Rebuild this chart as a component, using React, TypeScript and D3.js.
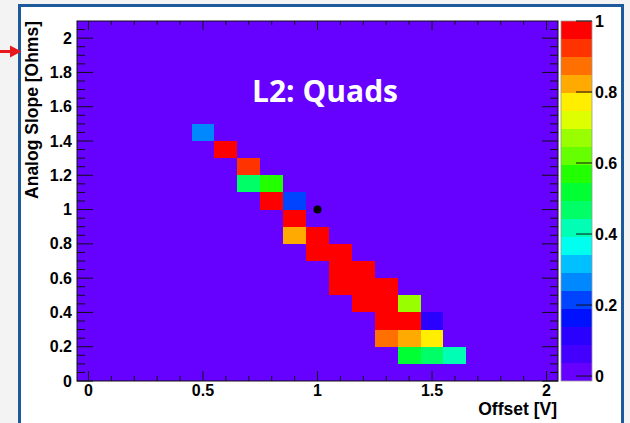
import React from "react";
import * as d3 from "d3";

// Occupied bins of the 2D histogram: bin centre on x (Offset), lower edge on y (Slope), content z
const cellX = [0.5, 0.6, 0.7, 0.7, 0.8, 0.8, 0.9, 0.9, 0.9, 1.0, 1.0, 1.1, 1.1, 1.2, 1.1, 1.2, 1.3, 1.2, 1.3, 1.4, 1.3, 1.4, 1.5, 1.3, 1.4, 1.5, 1.4, 1.5, 1.6];
const cellY = [1.4, 1.3, 1.2, 1.1, 1.1, 1.0, 1.0, 0.9, 0.8, 0.8, 0.7, 0.7, 0.6, 0.6, 0.5, 0.5, 0.5, 0.4, 0.4, 0.4, 0.3, 0.3, 0.3, 0.2, 0.2, 0.2, 0.1, 0.1, 0.1];
const cellZ = [0.26, 1.0, 0.93, 0.47, 0.57, 1.0, 0.21, 1.0, 0.83, 1.0, 1.0, 1.0, 1.0, 1.0, 1.0, 1.0, 1.0, 1.0, 1.0, 0.67, 1.0, 1.0, 0.11, 0.88, 0.83, 0.78, 0.52, 0.47, 0.42];

// Reference point marker
const markerX = [1.0];
const markerY = [1.0];

// Axis tick labels
const xMajor = [0, 0.5, 1, 1.5, 2];
const xTickLabels = ["0", "0.5", "1", "1.5", "2"];
const yMajor = [0, 0.2, 0.4, 0.6, 0.8, 1, 1.2, 1.4, 1.6, 1.8, 2];
const yTickLabels = ["0", "0.2", "0.4", "0.6", "0.8", "1", "1.2", "1.4", "1.6", "1.8", "2"];
const zMajor = [0, 0.2, 0.4, 0.6, 0.8, 1];
const zTickLabels = ["0", "0.2", "0.4", "0.6", "0.8", "1"];

// Spectrum palette, violet to red (20 contour levels)
const palette = [
  "#6600ff", "#4400ff", "#2a00ff", "#0011ff", "#0044ff",
  "#0088ff", "#00c0ff", "#00ffee", "#00ffb4", "#00ff66",
  "#00ff33", "#22ff00", "#66ff00", "#99ff00", "#ddff00",
  "#ffee00", "#ffaa00", "#ff7000", "#ff3300", "#ff0000",
];

const W = 630;
const H = 423;
const FONT = "'Liberation Sans', Arial, Helvetica, sans-serif";

export default function App() {
  const x = d3.scaleLinear().domain([-0.05, 2.05]).range([77, 558]);
  const y = d3.scaleLinear().domain([0, 2.1]).range([381, 21]);
  const zMin = -0.014;
  const zAxis = d3.scaleLinear().domain([zMin, 1]).range([381, 21]);
  const color = d3.scaleQuantize<string>().domain([zMin, 1]).range(palette);

  const [x0, x1] = x.range();
  const [y0, y1] = y.range();

  const xMinor = d3.range(0, 21).map((i) => i / 10).filter((v) => !xMajor.some((m) => Math.abs(m - v) < 1e-9));
  const yMinor = d3.range(0, 42).map((i) => i * 0.05).filter((v) => v <= 2.06 && !yMajor.some((m) => Math.abs(m - v) < 1e-9));

  const barX0 = 561;
  const barX1 = 592;
  const bandEdges = d3.range(0, palette.length + 1).map((i) => zMin + (i * (1 - zMin)) / palette.length);

  return (
    <svg
      width={W}
      height={H}
      style={{ position: "absolute", left: 0, top: 0, background: "#f3f3f3" }}
      fontFamily={FONT}
    >
      {/* panel */}
      <rect x={19.5} y={5.5} width={603} height={420} fill="#ffffff" stroke="#1c5a9c" strokeWidth={3} />

      {/* red pointer */}
      <g fill="#e8191c" stroke="none">
        <rect x={0} y={50} width={11} height={3} />
        <path d="M10,45.5 L21.5,51.5 L10,57.5 Z" />
      </g>

      {/* plot area background */}
      <rect x={x0} y={y1} width={x1 - x0} height={y0 - y1} fill={palette[0]} />

      {/* histogram bins */}
      <g shapeRendering="crispEdges">
        {cellX.map((cx, i) => (
          <rect
            key={i}
            x={x(cx - 0.05)}
            y={y(cellY[i] + 0.1)}
            width={x(cx + 0.05) - x(cx - 0.05)}
            height={y(cellY[i]) - y(cellY[i] + 0.1)}
            fill={color(cellZ[i])}
          />
        ))}
      </g>

      {/* marker */}
      {markerX.map((mx, i) => (
        <circle key={i} cx={x(mx)} cy={y(markerY[i])} r={4} fill="#000" />
      ))}

      {/* frame */}
      <rect x={x0} y={y1} width={x1 - x0} height={y0 - y1} fill="none" stroke="#111" strokeWidth={1} />

      {/* ticks on all four sides */}
      <g stroke="#111" strokeWidth={1}>
        {xMajor.map((v) => (
          <g key={"xM" + v}>
            <line x1={x(v)} x2={x(v)} y1={y0} y2={y0 - 10} />
            <line x1={x(v)} x2={x(v)} y1={y1} y2={y1 + 9} />
          </g>
        ))}
        {xMinor.map((v) => (
          <g key={"xm" + v}>
            <line x1={x(v)} x2={x(v)} y1={y0} y2={y0 - 5} />
            <line x1={x(v)} x2={x(v)} y1={y1} y2={y1 + 4} />
          </g>
        ))}
        {yMajor.map((v) => (
          <g key={"yM" + v}>
            <line x1={x0} x2={x0 + 16} y1={y(v)} y2={y(v)} />
            <line x1={x1} x2={x1 - 16} y1={y(v)} y2={y(v)} />
          </g>
        ))}
        {yMinor.map((v) => (
          <g key={"ym" + v}>
            <line x1={x0} x2={x0 + 8} y1={y(v)} y2={y(v)} />
            <line x1={x1} x2={x1 - 8} y1={y(v)} y2={y(v)} />
          </g>
        ))}
      </g>

      {/* tick labels */}
      <g fontSize={16} fontWeight="bold" fill="#000">
        {xMajor.map((v, i) => (
          <text key={"xl" + v} x={x(v)} y={396} textAnchor="middle">
            {xTickLabels[i]}
          </text>
        ))}
        {yMajor.map((v, i) => (
          <text key={"yl" + v} x={72} y={y(v)} textAnchor="end" dominantBaseline="central">
            {yTickLabels[i]}
          </text>
        ))}
      </g>

      {/* axis titles */}
      <text x={557} y={415} textAnchor="end" fontSize={17.5} fontWeight="bold" fill="#000">
        Offset [V]
      </text>
      <text
        transform={`translate(38,21) rotate(-90)`}
        textAnchor="end"
        fontSize={17.5}
        fontWeight="bold"
        fill="#000"
      >
        Analog Slope [Ohms]
      </text>

      {/* title */}
      <text
        x={325}
        y={102}
        textAnchor="middle"
        fontFamily="'Open Sans', 'Noto Sans', sans-serif"
        fontSize={30}
        fontWeight="bold"
        fill="#ffffff"
      >
        L2: Quads
      </text>

      {/* colour scale */}
      <g shapeRendering="crispEdges">
        {palette.map((c, i) => (
          <rect
            key={"band" + i}
            x={barX0}
            y={zAxis(bandEdges[i + 1])}
            width={barX1 - barX0}
            height={zAxis(bandEdges[i]) - zAxis(bandEdges[i + 1])}
            fill={c}
          />
        ))}
      </g>
      <rect x={barX0} y={21} width={barX1 - barX0} height={360} fill="none" stroke="#999" strokeWidth={0.8} />
      <g stroke="#111" strokeWidth={1}>
        {zMajor.map((v) => (
          <line key={"zt" + v} x1={barX1} x2={barX1 - 16} y1={zAxis(v)} y2={zAxis(v)} />
        ))}
      </g>
      <g fontSize={16} fontWeight="bold" fill="#000">
        {zMajor.map((v, i) => (
          <text key={"zl" + v} x={595} y={zAxis(v)} dominantBaseline="central">
            {zTickLabels[i]}
          </text>
        ))}
      </g>
    </svg>
  );
}
